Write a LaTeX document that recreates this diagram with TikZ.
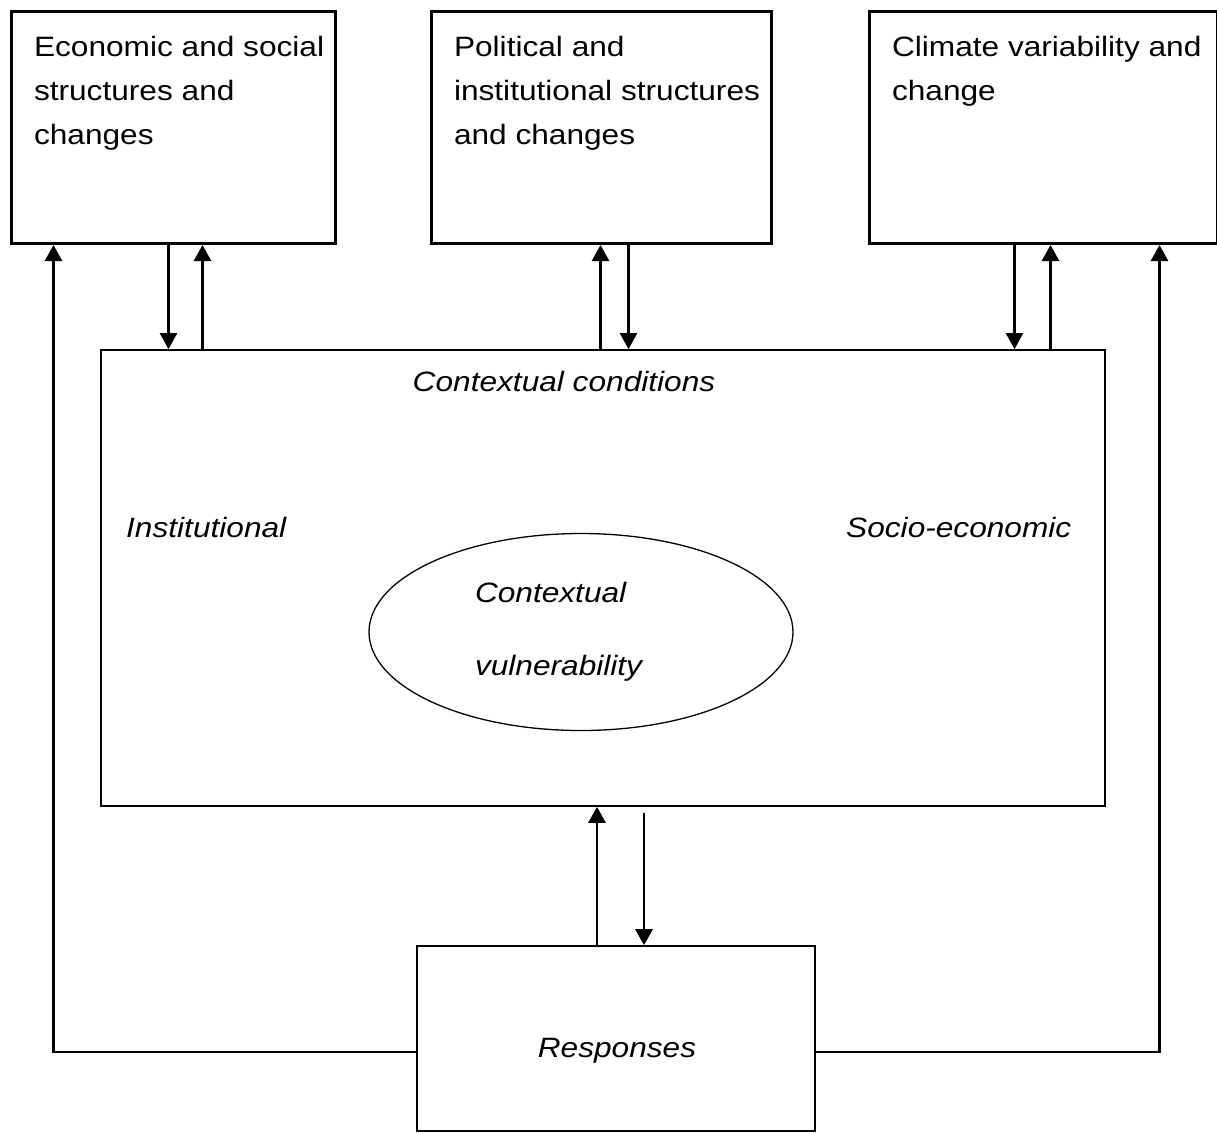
\documentclass[tikz,border=0pt]{standalone}
\usepackage{fontspec}
\setmainfont{Liberation Sans}[FakeStretch=1.13]
\usetikzlibrary{arrows.meta,positioning,shapes.geometric}

% text of the three top boxes, held at the top left
\newcommand{\toptext}[2]{\parbox[t][232pt][t]{#1}{\vspace*{25pt}\raggedright\leftskip=22.5pt #2}}

\begin{document}
\begin{tikzpicture}[x=1pt, y=-1pt,
    font=\fontsize{28}{44}\selectfont,
    topbox/.style={draw, line width=3pt, anchor=north west, inner sep=0pt},
    frame/.style={draw, line width=1.6pt, inner sep=0pt},
    lbl/.style={font=\fontsize{28}{44}\selectfont\itshape, inner sep=0pt},
    uparrow/.style={-{Triangle[width=17pt,length=16pt]}, line width=2.7pt},
    downarrow/.style={-{Triangle[width=17pt,length=16pt]}, line width=2.1pt}
  ]
    \useasboundingbox (0,0) rectangle (1217,1133);

    % driving structures
    \node[topbox] (econ) at (10,10) {\toptext{324pt}{Economic and social\\structures and\\changes}};
    \node[topbox] (pol) at (430,10) {\toptext{340pt}{Political and\\institutional structures\\and changes}};
    \node[topbox] (clim) at (868,10) {\toptext{348pt}{Climate variability and\\change}};

    % contextual conditions
    \node[frame, minimum width=1004pt, minimum height=456pt] (ctx) at (603,578) {};
    \node[lbl] (cond) at (564,381) {Contextual conditions};
    \node[lbl, anchor=west] (inst) at (126,527) {Institutional};
    \node[lbl, anchor=west] (socio) at (846,527) {Socio-economic};
    \node[ellipse, draw, line width=1.3pt, minimum width=424pt, minimum height=197pt,
          inner sep=0pt, text width=212pt, align=left, lbl] (vuln) at (581,632)
          {Contextual\\[29pt]vulnerability};

    % responses
    \node[frame, minimum width=398pt, minimum height=185pt] (resp) at (616,1038.5) {};
    \node[lbl] (resptxt) at (617,1051) {Responses};

    \draw[downarrow] ([xshift=-5]econ.south) -- ([xshift=-5]econ.south |- ctx.north);
    \draw[uparrow] ([xshift=29]econ.south |- ctx.north) -- ([xshift=29]econ.south);
    \draw[uparrow] ([xshift=-1]pol.south |- ctx.north) -- ([xshift=-1]pol.south);
    \draw[downarrow] ([xshift=27]pol.south) -- ([xshift=27]pol.south |- ctx.north);
    \draw[downarrow] ([xshift=-29]clim.south) -- ([xshift=-29]clim.south |- ctx.north);
    \draw[uparrow] ([xshift=7]clim.south |- ctx.north) -- ([xshift=7]clim.south);

    \draw[uparrow] ([xshift=-19]resp.north) -- ([xshift=-19]resp.north |- ctx.south);
    \draw[uparrow] ([xshift=28,yshift=-6]resp.north |- ctx.south) -- ([xshift=28]resp.north);

    % feedback of the responses
    \draw[uparrow] ([yshift=-13.5]resp.west) -| ([xshift=-120]econ.south);
    \draw[uparrow] ([yshift=-13.5]resp.east) -| ([xshift=116]clim.south);
  \end{tikzpicture}
\end{document}
